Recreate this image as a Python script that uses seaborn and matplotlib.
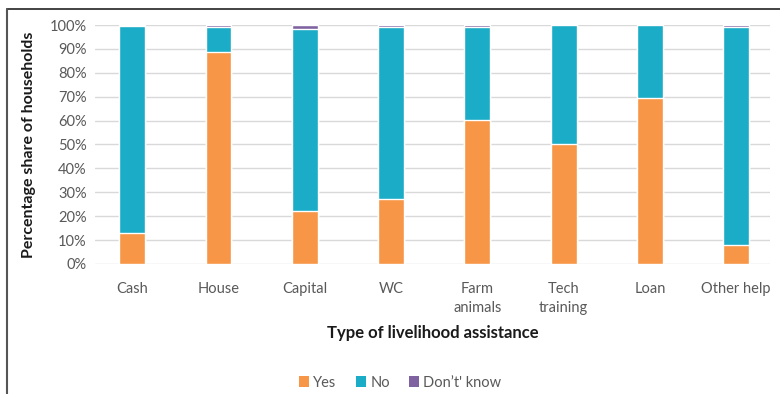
import matplotlib
matplotlib.use("Agg")
import matplotlib.pyplot as plt
from matplotlib.patches import Patch
from matplotlib.lines import Line2D
from matplotlib.ticker import FuncFormatter
import numpy as np
import pandas as pd
import seaborn as sns

categories = ["Cash", "House", "Capital", "WC", "Farm\nanimals", "Tech\ntraining", "Loan", "Other help"]
yes_pct = [13.0, 88.7, 22.2, 27.3, 60.2, 50.0, 69.5, 8.0]
dont_know_pct = [0.3, 1.0, 1.5, 0.7, 0.8, 0.0, 0.0, 0.8]
no_pct = [100 - y - d for y, d in zip(yes_pct, dont_know_pct)]
series_names = ["Yes", "No", "Don’t' know"]
colors = {"Yes": "#F79646", "No": "#1BACC7", "Don’t' know": "#7F63A1"}

sns.set_theme(style="white")
plt.rcParams["font.family"] = ["Lato", "DejaVu Sans"]

df = pd.DataFrame({"category": categories, "Yes": yes_pct, "No": no_pct,
                   "Don’t' know": dont_know_pct})
df["cum_yes"] = df["Yes"]
df["cum_no"] = df["Yes"] + df["No"]
df["cum_dk"] = df["cum_no"] + df["Don’t' know"]

fig = plt.figure(figsize=(7.8, 3.94), dpi=100)
ax = fig.add_axes([0.122, 0.33, 0.865, 0.6065])

# stacked bars drawn as overlapping cumulative totals
for col, name in [("cum_dk", "Don’t' know"), ("cum_no", "No"), ("cum_yes", "Yes")]:
    sns.barplot(data=df, x="category", y=col, color=colors[name], width=0.3,
                saturation=1, ax=ax, zorder=3)

ax.set_xlim(-0.43, 7.39)
ax.set_ylim(0, 100)
ax.set_yticks(np.arange(0, 101, 10))
ax.yaxis.set_major_formatter(FuncFormatter(lambda v, p: f"{int(v)}%"))
ax.grid(axis="y", color="#D9D9D9", linewidth=1, zorder=0)
ax.grid(axis="x", visible=False)
for s in ax.spines.values():
    s.set_visible(False)
ax.tick_params(axis="both", length=0, labelsize=10.5, labelcolor="#595959")
ax.tick_params(axis="x", pad=13)
ax.tick_params(axis="y", pad=6)
for lbl in ax.get_xticklabels():
    lbl.set_linespacing(1.45)
ax.set_xlabel("Type of livelihood assistance", fontsize=12, fontweight="bold",
              color="#1a1a1a", labelpad=7)
ax.set_ylabel("Percentage share of households", fontsize=11.5, fontweight="bold",
              color="#1a1a1a", labelpad=10)

handles = [Patch(facecolor=colors[n], edgecolor="none") for n in series_names]
fig.legend(handles, series_names, loc="center", bbox_to_anchor=(0.513, 0.029),
           ncol=3, frameon=False, fontsize=10.5, handlelength=0.7, handleheight=0.7,
           handletextpad=0.3, columnspacing=1.3, labelcolor="#595959")

# frame lines along top and left edge
fig.add_artist(Line2D([0.009, 1.0], [0.977, 0.977], color="#222222", linewidth=1.2,
                      transform=fig.transFigure))
fig.add_artist(Line2D([0.009, 0.009], [0.0, 0.977], color="#555555", linewidth=1.5,
                      transform=fig.transFigure))

fig.savefig("out.png", dpi=100)
